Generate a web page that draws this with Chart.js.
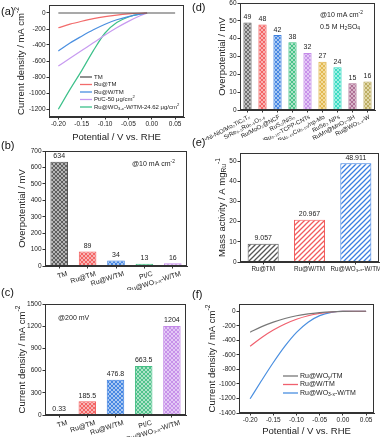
<!DOCTYPE html>
<html>
<head>
<meta charset="utf-8">
<script src="https://cdn.jsdelivr.net/npm/chart.js@4/dist/chart.umd.min.js"></script>
<style>
  body { margin: 0; background: #fff; }
  #wrap { position: relative; width: 380px; height: 437px; overflow: hidden; font-family: "Liberation Sans", Arial, sans-serif; }
  canvas { position: absolute; }
  .lbl { position: absolute; font-size: 11px; line-height: 1; color: #111; }
</style>
</head>
<body>
<div id="wrap">
  <canvas id="ca" width="190" height="145" style="left:0;top:0"></canvas>
  <canvas id="cb" width="190" height="150" style="left:0;top:140px"></canvas>
  <canvas id="cc" width="190" height="147" style="left:0;top:290px"></canvas>
  <canvas id="cd" width="190" height="140" style="left:190px;top:0"></canvas>
  <canvas id="ce" width="190" height="150" style="left:190px;top:140px"></canvas>
  <canvas id="cf" width="190" height="147" style="left:190px;top:290px"></canvas>
  <div class="lbl" style="left:1px;top:6px">(a)</div>
  <div class="lbl" style="left:1px;top:140px">(b)</div>
  <div class="lbl" style="left:1px;top:287px">(c)</div>
  <div class="lbl" style="left:192px;top:2px">(d)</div>
  <div class="lbl" style="left:192px;top:137px">(e)</div>
  <div class="lbl" style="left:192px;top:289px">(f)</div>
</div>
<script>
// ---- data ----

// (a) polarization curves
const potA = [-0.2, -0.175, -0.15, -0.125, -0.1, -0.075, -0.05, -0.025, -0.01];
const potA_TM = [-0.2, -0.15, -0.1, -0.05, 0, 0.05];
const jA_TM = [0, 0, 0, 0, 0, 0];
const jA_RuTM = [-185, -140, -103, -70, -45, -26, -12, -3, 0];
const jA_RuWTM = [-476, -375, -290, -210, -140, -85, -45, -15, 0];
const jA_PtC = [-663, -565, -468, -373, -275, -185, -105, -35, 0];
const jA_RuWOx = [-1204, -955, -720, -470, -250, -120, -50, -12, 0];
const legendA = ['TM', 'Ru@TM', 'Ru@W/TM', 'Pt/C-50 μg/cm^{2}', 'Ru@WO_{3-x}-W/TM-24.62 μg/cm^{2}'];

// (b) overpotential @10 mA cm-2, (c) current density @200 mV
const catsBC = ['TM', 'Ru@TM', 'Ru@W/TM', 'Pt/C', 'Ru@WO₃₋ₓ-W/TM'];
const etaB = [634, 89, 34, 13, 16];
const jC = [0.33, 185.5, 476.8, 663.5, 1204];

// (d) comparison with reported catalysts
const catsD = ['Ru/Ni-NiO/Mo₂TiC₂Tₓ', 'SrRe₀.₅Ru₀.₅O₃.₆', 'Ru/MoO₂@NCF', 'RuS₂/NiS₂', 'Al₀.₃₅/Ru₀.₁₀-TCPP-CNTs',
  'Ru₀.₄₅Cu₀.₅₅/np-Mo', 'RuSe₂ NPs', 'RuMn@MnO₂-3H', 'Ru@WO₃₋ₓ-W'];
const etaD = [49, 48, 42, 38, 32, 27, 24, 15, 16];

// (e) mass activity
const catsE = ['Ru@TM', 'Ru@W/TM', 'Ru@WO₃₋ₓ-W/TM'];
const massE = [9.057, 20.967, 48.911];

// (f) polarization curves
const potF = [-0.2, -0.175, -0.15, -0.125, -0.1, -0.075, -0.05, -0.025, 0, 0.025, 0.05];
const jF_WOy = [-288, -212, -150, -100, -62, -37, -20, -8, -2, 0, 0];
const jF_RuWTM = [-480, -360, -258, -175, -110, -62, -30, -10, 0, 0, 0];
const jF_RuWOx = [-1204, -950, -705, -480, -290, -150, -60, -15, 0, 0, 0];
const legendF = ['Ru@WO_{y}/TM', 'Ru@W/TM', 'Ru@WO_{3-x}-W/TM'];

// tick values
const ticksPot = [-0.2, -0.15, -0.1, -0.05, 0, 0.05];
const ticksA_Y = [-1200, -1000, -800, -600, -400, -200, 0];
const ticksB_Y = [0, 100, 200, 300, 400, 500, 600, 700];
const ticksC_Y = [0, 300, 600, 900, 1200, 1500];
const ticksD_Y = [0, 10, 20, 30, 40, 50, 60];
const ticksE_Y = [0, 10, 20, 30, 40, 50];
const ticksF_Y = [-1400, -1200, -1000, -800, -600, -400, -200, 0];

// ---- helpers ----
const FONT = "'Liberation Sans', Arial, sans-serif";
Chart.defaults.font.family = FONT;
Chart.defaults.color = '#222';
Chart.defaults.animation = false;
Chart.defaults.responsive = false;
Chart.defaults.plugins.legend.display = false;
Chart.defaults.plugins.tooltip.enabled = false;

// text with _{sub} and ^{sup}
function richText(ctx, str, x, y, size, align) {
  const segs = str.split(/(_\{[^}]*\}|\^\{[^}]*\})/).filter(Boolean).map(p => {
    if (p[0] === '_') return { t: p.slice(2, -1), s: size * 0.7, dy: size * 0.28 };
    if (p[0] === '^') return { t: p.slice(2, -1), s: size * 0.7, dy: -size * 0.38 };
    return { t: p, s: size, dy: 0 };
  });
  let w = 0;
  segs.forEach(g => { ctx.font = g.s + 'px ' + FONT; g.w = ctx.measureText(g.t).width; w += g.w; });
  let cx = align === 'center' ? x - w / 2 : align === 'right' ? x - w : x;
  ctx.textAlign = 'left';
  ctx.textBaseline = 'middle';
  segs.forEach(g => { ctx.font = g.s + 'px ' + FONT; ctx.fillText(g.t, cx, y + g.dy); cx += g.w; });
}

const framePlugin = {
  id: 'frame',
  afterDraw(chart) {
    const a = chart.chartArea, ctx = chart.ctx;
    ctx.save();
    ctx.strokeStyle = '#333';
    ctx.lineWidth = 1;
    ctx.strokeRect(Math.round(a.left) + 0.5, Math.round(a.top) + 0.5, Math.round(a.right - a.left) - 1, Math.round(a.bottom - a.top) - 1);
    ctx.restore();
  }
};

const yTitlePlugin = {
  id: 'yTitle',
  afterDraw(chart, args, o) {
    if (!o.text) return;
    const a = chart.chartArea, ctx = chart.ctx;
    ctx.save();
    ctx.fillStyle = '#222';
    ctx.translate(o.x, (a.top + a.bottom) / 2);
    ctx.rotate(-Math.PI / 2);
    richText(ctx, o.text, 0, 0, o.size || 9.5, 'center');
    ctx.restore();
  }
};

const notesPlugin = {
  id: 'notes',
  afterDraw(chart, args, o) {
    if (!o.items) return;
    const a = chart.chartArea, ctx = chart.ctx;
    ctx.save();
    ctx.fillStyle = '#222';
    o.items.forEach(it => richText(ctx, it.text, a.left + it.x, a.top + it.y, o.size || 7, 'left'));
    ctx.restore();
  }
};

const barValuesPlugin = {
  id: 'barValues',
  afterDatasetsDraw(chart, args, o) {
    if (!o.show) return;
    const ctx = chart.ctx;
    const meta = chart.getDatasetMeta(0);
    const vals = chart.data.datasets[0].data;
    ctx.save();
    ctx.fillStyle = '#222';
    ctx.font = (o.size || 7) + 'px ' + FONT;
    ctx.textAlign = 'center';
    ctx.textBaseline = 'bottom';
    meta.data.forEach((bar, i) => ctx.fillText(String(vals[i]), bar.x, bar.y - 2));
    ctx.restore();
  }
};

const inLegendPlugin = {
  id: 'inLegend',
  afterDraw(chart, args, o) {
    if (!o.labels) return;
    const a = chart.chartArea, ctx = chart.ctx;
    ctx.save();
    chart.data.datasets.forEach((ds, i) => {
      const y = a.top + o.y + i * o.step;
      const x = a.left + o.x;
      ctx.strokeStyle = ds.borderColor;
      ctx.lineWidth = 1.3;
      ctx.beginPath();
      ctx.moveTo(x, y);
      ctx.lineTo(x + o.len, y);
      ctx.stroke();
      ctx.fillStyle = '#222';
      richText(ctx, o.labels[i], x + o.len + 2, y, o.size, 'left');
    });
    ctx.restore();
  }
};

Chart.register(framePlugin, yTitlePlugin, notesPlugin, barValuesPlugin, inLegendPlugin);

function hatch(color, bg, kind) {
  const n = kind === 'x' ? 4 : 5;
  const c = document.createElement('canvas');
  c.width = c.height = n;
  const g = c.getContext('2d');
  g.fillStyle = bg;
  g.fillRect(0, 0, n, n);
  g.strokeStyle = color;
  g.lineWidth = kind === 'x' ? 0.9 : 1.3;
  g.beginPath();
  for (let k = -n; k <= n; k += n) {
    g.moveTo(k - 1, n + 1); g.lineTo(k + n + 1, -1);
    if (kind === 'x') { g.moveTo(k - 1, -1); g.lineTo(k + n + 1, n + 1); }
  }
  g.stroke();
  return g.createPattern(c, 'repeat');
}

function xAxis(o) {
  const ax = {
    type: o.type,
    offset: o.type === 'category',
    border: { color: '#333', width: 1 },
    grid: { drawOnChartArea: false, color: '#333', tickLength: 2.5, offset: false },
    ticks: { font: { size: o.size || 6.5 }, padding: 1, color: '#222', autoSkip: false,
      maxRotation: o.rot || 0, minRotation: o.rot || 0, labelOffset: o.labelOffset || 0 },
    title: o.title ? { display: true, text: o.title, font: { size: 9.5 }, padding: { top: 0, bottom: o.tpad || 0 } } : { display: false },
    afterFit: s => { s.height = o.h; s.paddingLeft = 0; s.paddingRight = 0; }
  };
  if (o.min !== undefined) { ax.min = o.min; ax.max = o.max; }
  if (o.ticks) {
    ax.afterBuildTicks = s => { s.ticks = o.ticks.map(v => ({ value: v })); };
    ax.ticks.callback = v => v.toFixed(2);
  }
  return ax;
}

function yAxis(o) {
  return {
    type: 'linear',
    min: o.min, max: o.max,
    border: { color: '#333', width: 1 },
    grid: { drawOnChartArea: false, color: '#333', tickLength: 2.5 },
    ticks: { font: { size: 6.5 }, padding: 1, color: '#222', callback: v => String(v) },
    afterBuildTicks: s => { s.ticks = o.ticks.map(v => ({ value: v })); },
    afterFit: s => { s.width = o.w; s.paddingTop = 0; s.paddingBottom = 0; }
  };
}

const pts = (xs, ys) => xs.map((x, i) => ({ x: x, y: ys[i] }));
const lineDs = (label, xs, ys, color) => ({
  label: label, data: pts(xs, ys), borderColor: color, borderWidth: 1.2,
  pointRadius: 0, cubicInterpolationMode: 'monotone', fill: false
});

// ---- (a) ----
new Chart(document.getElementById('ca'), {
  type: 'line',
  data: {
    datasets: [
      lineDs('TM', potA_TM, jA_TM, '#555555'),
      lineDs('Ru@TM', potA, jA_RuTM, '#f26b6b'),
      lineDs('Ru@W/TM', potA, jA_RuWTM, '#4a8fe0'),
      lineDs('Pt/C', potA, jA_PtC, '#c79af0'),
      lineDs('Ru@WO3-x-W/TM', potA, jA_RuWOx, '#3cc08a')
    ]
  },
  options: {
    layout: { padding: { top: 5, right: 6, left: 0, bottom: 0 } },
    scales: {
      x: xAxis({ type: 'linear', min: -0.22, max: 0.069, ticks: ticksPot, h: 28, title: 'Potential / V vs. RHE', tpad: 2 }),
      y: yAxis({ min: -1300, max: 100, ticks: ticksA_Y, w: 49 })
    },
    plugins: {
      yTitle: { text: 'Current density / mA cm^{-2}', x: 21 },
      inLegend: { labels: legendA, x: 31, y: 72, step: 7.5, len: 12, size: 6 }
    }
  }
});

// ---- (b) ----
const colBC = ['#555555', '#f25c5c', '#3c7fe0', '#45bf85', '#c48ae8'];
const fillBC = ['#b5b5b5', '#f8b4b4', '#a9c8f2', '#aee3c8', '#e3c8f5'];
new Chart(document.getElementById('cb'), {
  type: 'bar',
  data: {
    labels: catsBC,
    datasets: [{
      data: etaB,
      backgroundColor: colBC.map((c, i) => hatch(c, fillBC[i], 'x')),
      borderColor: colBC, borderWidth: 1,
      barPercentage: 0.62, categoryPercentage: 1
    }]
  },
  options: {
    layout: { padding: { top: 11, right: 3, left: 0, bottom: 0 } },
    scales: {
      x: xAxis({ type: 'category', h: 24, rot: 18, size: 7, labelOffset: 8 }),
      y: yAxis({ min: 0, max: 700, ticks: ticksB_Y, w: 45 })
    },
    plugins: {
      yTitle: { text: 'Overpotential / mV', x: 22 },
      notes: { size: 7, items: [{ text: '@10 mA cm^{-2}', x: 87, y: 13 }] },
      barValues: { show: true, size: 7 }
    }
  }
});

// ---- (c) ----
new Chart(document.getElementById('cc'), {
  type: 'bar',
  data: {
    labels: catsBC,
    datasets: [{
      data: jC,
      backgroundColor: colBC.map((c, i) => hatch(c, fillBC[i], 'x')),
      borderColor: colBC, borderWidth: 1,
      barPercentage: 0.62, categoryPercentage: 1
    }]
  },
  options: {
    layout: { padding: { top: 14, right: 4, left: 0, bottom: 0 } },
    scales: {
      x: xAxis({ type: 'category', h: 22, rot: 18, size: 7, labelOffset: 8 }),
      y: yAxis({ min: 0, max: 1500, ticks: ticksC_Y, w: 45 })
    },
    plugins: {
      yTitle: { text: 'Current density / mA cm^{-2}', x: 22 },
      notes: { size: 7, items: [{ text: '@200 mV', x: 13, y: 14 }] },
      barValues: { show: true, size: 7 }
    }
  }
});

// ---- (d) ----
const colD = ['#666666', '#f25c5c', '#3c7fe0', '#3cc080', '#c48ae8', '#e0b44a', '#2fd8c0', '#a8688f', '#b8a85a'];
const fillD = ['#bdbdbd', '#f8b4b4', '#a9c8f2', '#aee3c8', '#e3c8f5', '#f3dc9e', '#9ef0e2', '#d8b4c8', '#e2d8a8'];
new Chart(document.getElementById('cd'), {
  type: 'bar',
  data: {
    labels: catsD,
    datasets: [{
      data: etaD,
      backgroundColor: colD.map((c, i) => hatch(c, fillD[i], 'x')),
      borderColor: colD, borderWidth: 1,
      barPercentage: 0.55, categoryPercentage: 1
    }]
  },
  options: {
    layout: { padding: { top: 3, right: 5, left: 0, bottom: 0 } },
    scales: {
      x: xAxis({ type: 'category', h: 30, rot: 28, size: 6, labelOffset: 2 }),
      y: yAxis({ min: 0, max: 60, ticks: ticksD_Y, w: 50 })
    },
    plugins: {
      yTitle: { text: 'Overpotential / mV', x: 32 },
      notes: { size: 7, items: [
        { text: '@10 mA cm^{-2}', x: 80, y: 12 },
        { text: '0.5 M H_{2}SO_{4}', x: 80, y: 24 }
      ] },
      barValues: { show: true, size: 7 }
    }
  }
});

// ---- (e) ----
const colE = ['#555555', '#f25c5c', '#3c7fe0'];
new Chart(document.getElementById('ce'), {
  type: 'bar',
  data: {
    labels: catsE,
    datasets: [{
      data: massE,
      backgroundColor: colE.map(c => hatch(c, '#ffffff', '/')),
      borderColor: colE, borderWidth: 1,
      barPercentage: 0.67, categoryPercentage: 1
    }]
  },
  options: {
    layout: { padding: { top: 13, right: 1, left: 0, bottom: 0 } },
    scales: {
      x: xAxis({ type: 'category', h: 28, size: 6.3 }),
      y: yAxis({ min: 0, max: 54, ticks: ticksE_Y, w: 50 })
    },
    plugins: {
      yTitle: { text: 'Mass activity / A mg_{Ru}^{-1}', x: 32 },
      barValues: { show: true, size: 7 }
    }
  }
});

// ---- (f) ----
new Chart(document.getElementById('cf'), {
  type: 'line',
  data: {
    datasets: [
      lineDs('Ru@WOy/TM', potF, jF_WOy, '#777777'),
      lineDs('Ru@W/TM', potF, jF_RuWTM, '#f0606e'),
      lineDs('Ru@WO3-x-W/TM', potF, jF_RuWOx, '#4a8fe0')
    ]
  },
  options: {
    layout: { padding: { top: 14, right: 6, left: 0, bottom: 0 } },
    scales: {
      x: xAxis({ type: 'linear', min: -0.224, max: 0.067, ticks: ticksPot, h: 24, title: 'Potential / V vs. RHE', tpad: 0 }),
      y: yAxis({ min: -1400, max: 100, ticks: ticksF_Y, w: 49 })
    },
    plugins: {
      yTitle: { text: 'Current density / mA cm^{-2}', x: 22 },
      inLegend: { labels: legendF, x: 44, y: 72, step: 8.5, len: 15, size: 7 }
    }
  }
});
</script>
</body>
</html>
